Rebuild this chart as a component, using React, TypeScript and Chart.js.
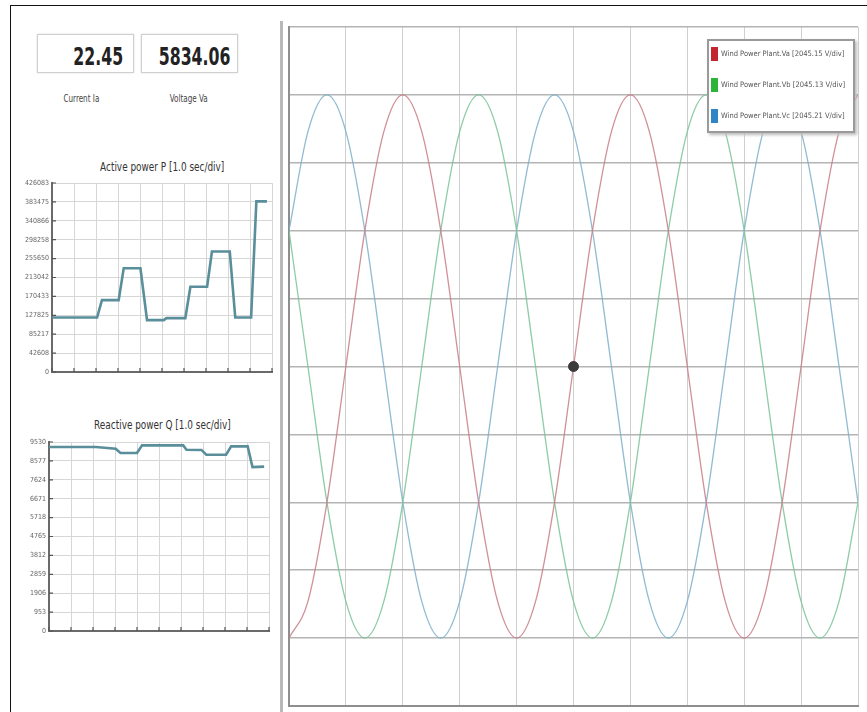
import React, { useEffect, useRef } from "react";
import { Chart, registerables } from "chart.js";
Chart.register(...registerables);

const FONT = '"Liberation Sans Narrow", "DejaVu Sans Condensed", "Liberation Sans", sans-serif';

// Small panels
const activeTime = [0, 2.05, 2.27, 3.03, 3.26, 4.02, 4.32, 5.08, 5.2, 6.06, 6.29, 7.05, 7.27, 8.08, 8.33, 9.05, 9.29, 9.77];
const activePower = [122900, 122900, 162100, 162100, 233800, 233800, 116900, 116900, 121500, 121500, 192300, 192300, 271500, 271500, 122900, 122900, 384600, 384600];
const activeTicks = [0, 42608, 85217, 127825, 170433, 213042, 255650, 298258, 340866, 383475, 426083];

const reactiveTime = [0, 2.13, 3.03, 3.25, 4.0, 4.23, 6.1, 6.25, 6.93, 7.15, 8.05, 8.28, 9.03, 9.25, 9.78];
const reactivePower = [9277, 9277, 9190, 8973, 8973, 9361, 9361, 9142, 9130, 8889, 8889, 9311, 9311, 8265, 8290];
const reactiveTicks = [0, 953, 1906, 2859, 3812, 4765, 5718, 6671, 7624, 8577, 9530];

// Main scope (divisions)
const scopeTime = [0, 0.333, 0.667, 1, 1.333, 1.667, 2, 2.333, 2.667, 3, 3.333, 3.667, 4, 4.333, 4.667, 5, 5.333, 5.667, 6, 6.333, 6.667, 7, 7.333, 7.667, 8, 8.333, 8.667, 9, 9.333, 9.667, 10];
const phaseA = [-4, -3.46, -2, 0, 2, 3.46, 4, 3.46, 2, 0, -2, -3.46, -4, -3.46, -2, 0, 2, 3.46, 4, 3.46, 2, 0, -2, -3.46, -4, -3.46, -2, 0, 2, 3.46, 4];
const phaseB = [2, 0, -2, -3.46, -4, -3.46, -2, 0, 2, 3.46, 4, 3.46, 2, 0, -2, -3.46, -4, -3.46, -2, 0, 2, 3.46, 4, 3.46, 2, 0, -2, -3.46, -4, -3.46, -2];
const phaseC = [2, 3.46, 4, 3.46, 2, 0, -2, -3.46, -4, -3.46, -2, 0, 2, 3.46, 4, 3.46, 2, 0, -2, -3.46, -4, -3.46, -2, 0, 2, 3.46, 4, 3.46, 2, 0, -2];
const cursorPoint = [{ x: 5, y: 0 }];

const legendLabels = [
  "Wind Power Plant.Va [2045.15 V/div]",
  "Wind Power Plant.Vb [2045.13 V/div]",
  "Wind Power Plant.Vc [2045.21 V/div]",
];
const legendColors = ["#c4262e", "#2db53a", "#2f86c6"];
const seriesColors = ["rgba(200,125,135,0.85)", "rgba(120,195,150,0.85)", "rgba(125,175,200,0.85)"];

const innerTicks = {
  id: "innerTicks",
  afterDatasetsDraw(chart: any) {
    const { ctx, chartArea } = chart;
    const xs = chart.scales.x;
    const ys = chart.scales.y;
    ctx.save();
    ctx.strokeStyle = "#555";
    ctx.lineWidth = 1.2;
    ctx.beginPath();
    ys.ticks.forEach((t: any) => {
      const y = ys.getPixelForValue(t.value);
      ctx.moveTo(chartArea.left, y);
      ctx.lineTo(chartArea.left + 4, y);
    });
    xs.ticks.forEach((t: any) => {
      const x = xs.getPixelForValue(t.value);
      ctx.moveTo(x, chartArea.bottom);
      ctx.lineTo(x, chartArea.bottom - 4);
    });
    ctx.stroke();
    ctx.restore();
  },
};

function SmallChart({ time, values, ticks, style, width, height }: any) {
  const ref = useRef<HTMLCanvasElement>(null);
  useEffect(() => {
    const pts = time.map((t: number, i: number) => ({ x: t, y: values[i] }));
    const chart = new Chart(ref.current!, {
      type: "line",
      data: {
        datasets: [
          {
            data: pts,
            borderColor: "#5a8e9b",
            borderWidth: 2.6,
            pointRadius: 0,
            tension: 0,
          },
        ],
      },
      options: {
        responsive: false,
        animation: false,
        layout: { padding: { left: 0, right: 3, top: 8, bottom: 8 } },
        plugins: { legend: { display: false }, tooltip: { enabled: false } },
        scales: {
          x: {
            type: "linear",
            min: 0,
            max: 10,
            ticks: { display: false, stepSize: 1 },
            grid: { color: "#d6d6d6", lineWidth: 1, drawTicks: false },
            border: { color: "#6a6a6a", width: 2 },
            afterFit: (s: any) => { s.height = 0; },
          },
          y: {
            type: "linear",
            min: ticks[0],
            max: ticks[ticks.length - 1],
            afterBuildTicks: (s: any) => { s.ticks = ticks.map((v: number) => ({ value: v })); },
            ticks: {
              font: { family: FONT, size: 7 },
              color: "#666",
              padding: 3,
              callback: (v: any) => String(v),
            },
            grid: { color: "#d6d6d6", lineWidth: 1, drawTicks: false },
            border: { color: "#6a6a6a", width: 2 },
            afterFit: (s: any) => { s.width = 32; },
          },
        },
      },
      plugins: [innerTicks],
    });
    return () => chart.destroy();
  }, []);
  return <canvas ref={ref} width={width} height={height} style={{ position: "absolute", ...style }} />;
}

function ScopeChart() {
  const ref = useRef<HTMLCanvasElement>(null);
  useEffect(() => {
    const mk = (vals: number[], color: string) => ({
      data: scopeTime.map((t, i) => ({ x: t, y: vals[i] })),
      borderColor: color,
      borderWidth: 1.3,
      pointRadius: 0,
      cubicInterpolationMode: "monotone" as const,
    });
    const chart = new Chart(ref.current!, {
      type: "line",
      data: {
        datasets: [
          {
            data: cursorPoint,
            showLine: false,
            pointRadius: 5,
            pointBackgroundColor: "#3a3a3a",
            pointBorderColor: "#3a3a3a",
          } as any,
          mk(phaseA, seriesColors[0]),
          mk(phaseB, seriesColors[1]),
          mk(phaseC, seriesColors[2]),
        ],
      },
      options: {
        responsive: false,
        animation: false,
        layout: { padding: { left: 4, right: 9, top: 7, bottom: 6 } },
        plugins: { legend: { display: false }, tooltip: { enabled: false } },
        scales: {
          x: {
            type: "linear",
            min: 0,
            max: 10,
            ticks: { display: false, stepSize: 1 },
            grid: { color: "#cfcfcf", lineWidth: 1, drawTicks: false },
            border: { color: "#8e8e8e", width: 2 },
            afterFit: (s: any) => { s.height = 0; },
          },
          y: {
            type: "linear",
            min: -5,
            max: 5,
            ticks: { display: false, stepSize: 1 },
            grid: { color: "#b4b4b4", lineWidth: 1.5, drawTicks: false },
            border: { color: "#8e8e8e", width: 2 },
            afterFit: (s: any) => { s.width = 0; },
          },
        },
      },
    });
    return () => chart.destroy();
  }, []);
  return <canvas ref={ref} width={584} height={692} style={{ position: "absolute", left: 283, top: 20 }} />;
}

function Narrow({ children, scale, origin }: any) {
  return (
    <span style={{ display: "inline-block", flex: "none", transform: `scaleX(${scale})`, transformOrigin: origin, whiteSpace: "nowrap" }}>
      {children}
    </span>
  );
}

export default function App() {
  const box: React.CSSProperties = {
    position: "absolute",
    top: 34,
    height: 39,
    border: "1px solid #cfcfcf",
    boxShadow: "0 0 2px #ddd",
    background: "#fff",
    fontFamily: FONT,
    fontWeight: "bold",
    fontSize: 25,
    color: "#222",
    display: "flex",
    justifyContent: "flex-end",
    alignItems: "center",
    paddingTop: 6,
    boxSizing: "border-box",
  };
  const label: React.CSSProperties = {
    position: "absolute",
    top: 93,
    fontFamily: FONT,
    fontSize: 10,
    color: "#444",
    width: 100,
    display: "flex",
    justifyContent: "center",
  };
  const title: React.CSSProperties = {
    position: "absolute",
    left: 62,
    width: 200,
    display: "flex",
    justifyContent: "center",
    fontFamily: FONT,
    fontSize: 11.5,
    color: "#333",
  };
  return (
    <div style={{ position: "fixed", left: 0, top: 0, width: 867, height: 712, overflow: "hidden", background: "#fff" }}>
      <div style={{ position: "absolute", left: 10, top: 5, width: 900, height: 760, borderLeft: "1.5px solid #111", borderTop: "1.5px solid #111" }} />
      <div style={{ position: "absolute", left: 280, top: 21, width: 2.5, height: 700, background: "#b8b8b8" }} />
      <div style={{ ...box, left: 37, width: 97, paddingRight: 10 }}><Narrow scale={0.7} origin="right center">22.45</Narrow></div>
      <div style={{ ...box, left: 141, width: 97, paddingRight: 7 }}><Narrow scale={0.7} origin="right center">5834.06</Narrow></div>
      <div style={{ ...label, left: 31 }}><Narrow scale={0.8} origin="center">Current Ia</Narrow></div>
      <div style={{ ...label, left: 139 }}><Narrow scale={0.8} origin="center">Voltage Va</Narrow></div>
      <div style={{ ...title, top: 160 }}><Narrow scale={0.86} origin="center">Active power P [1.0 sec/div]</Narrow></div>
      <div style={{ ...title, top: 418 }}><Narrow scale={0.86} origin="center">Reactive power Q [1.0 sec/div]</Narrow></div>
      <SmallChart time={activeTime} values={activePower} ticks={activeTicks} width={255} height={205} style={{ left: 20, top: 175 }} />
      <SmallChart time={reactiveTime} values={reactivePower} ticks={reactiveTicks} width={255} height={205} style={{ left: 17, top: 434 }} />
      <ScopeChart />
      <div
        style={{
          position: "absolute",
          left: 707,
          top: 39,
          width: 148,
          height: 94,
          border: "2px solid #9a9a9a",
          boxShadow: "2px 2px 3px #bbb",
          background: "#fff",
          boxSizing: "border-box",
        }}
      >
        {legendLabels.map((l, i) => (
          <div key={i} style={{ position: "absolute", left: 2, top: 5 + i * 31, height: 15, display: "flex", alignItems: "center", whiteSpace: "nowrap" }}>
            <div style={{ width: 7, height: 14, background: legendColors[i], marginRight: 3 }} />
            <span style={{ fontFamily: FONT, fontSize: 7.5, color: "#555" }}>{l}</span>
          </div>
        ))}
      </div>
    </div>
  );
}
